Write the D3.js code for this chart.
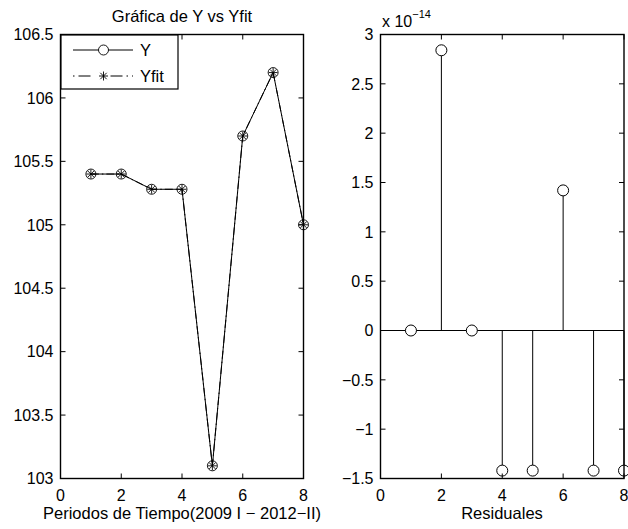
<!DOCTYPE html>
<html>
<head>
<meta charset="utf-8">
<script src="https://cdn.jsdelivr.net/npm/d3@7"></script>
<style>
  body { margin: 0; background: #fff; }
  svg { display: block; }
  text { font-family: "Liberation Sans", Arial, Helvetica, sans-serif; fill: #000; }
</style>
</head>
<body>
<svg id="chart" width="628" height="529"></svg>
<script>
// Data
var periods = [1, 2, 3, 4, 5, 6, 7, 8];
var yObs = [105.4, 105.4, 105.28, 105.28, 103.1, 105.7, 106.2, 105.0];
var yFit = [105.4, 105.4, 105.28, 105.28, 103.1, 105.7, 106.2, 105.0];
var residuals = [0, 2.84, 0, -1.42, -1.42, 1.42, -1.42, -1.42]; // x 1e-14

var xTicks = [0, 2, 4, 6, 8];
var leftYTicks = [103, 103.5, 104, 104.5, 105, 105.5, 106, 106.5];
var rightYTicks = [-1.5, -1, -0.5, 0, 0.5, 1, 1.5, 2, 2.5, 3];

(function() {

    var svg = d3.select("#chart");

    // Dimensions
    var plotTop = 34.5, plotBottom = 478.5;
    var tickFont = 16;
    var labelFont = 16.5;
    var tickLen = 5;

    function fmt(v) {
        return String(v).replace("-", "\u2212");
    }

    function drawAxes(g, x, y, yTicks) {
        var x0 = x.range()[0], x1 = x.range()[1];

        // ticks inward on all four sides
        xTicks.forEach(function(t) {
            g.append("line").attr("x1", x(t)).attr("x2", x(t))
                .attr("y1", plotBottom).attr("y2", plotBottom - tickLen)
                .attr("stroke", "#000");
            g.append("line").attr("x1", x(t)).attr("x2", x(t))
                .attr("y1", plotTop).attr("y2", plotTop + tickLen)
                .attr("stroke", "#000");
            g.append("text")
                .attr("x", x(t)).attr("y", 501)
                .attr("text-anchor", "middle")
                .attr("font-size", tickFont)
                .text(t);
        });
        yTicks.forEach(function(t) {
            g.append("line").attr("x1", x0).attr("x2", x0 + tickLen)
                .attr("y1", y(t)).attr("y2", y(t))
                .attr("stroke", "#000");
            g.append("line").attr("x1", x1).attr("x2", x1 - tickLen)
                .attr("y1", y(t)).attr("y2", y(t))
                .attr("stroke", "#000");
            g.append("text")
                .attr("x", x0 - 7).attr("y", y(t))
                .attr("dy", "0.36em")
                .attr("text-anchor", "end")
                .attr("font-size", tickFont)
                .text(fmt(t));
        });

        g.append("rect")
            .attr("x", x0).attr("y", plotTop)
            .attr("width", x1 - x0).attr("height", plotBottom - plotTop)
            .attr("fill", "none")
            .attr("stroke", "#000")
            .attr("stroke-width", 1.4);
    }

    function star(g, cx, cy, r) {
        var d = r * 0.7071;
        g.append("path")
            .attr("d", "M" + (cx - r) + "," + cy + "H" + (cx + r) +
                "M" + cx + "," + (cy - r) + "V" + (cy + r) +
                "M" + (cx - d) + "," + (cy - d) + "L" + (cx + d) + "," + (cy + d) +
                "M" + (cx - d) + "," + (cy + d) + "L" + (cx + d) + "," + (cy - d))
            .attr("stroke", "#000")
            .attr("stroke-width", 0.9)
            .attr("fill", "none");
    }

    // ---------- Left panel ----------
    var xL = d3.scaleLinear().domain([0, 8]).range([60.5, 303.5]);
    var yL = d3.scaleLinear().domain([103, 106.5]).range([plotBottom, plotTop]);
    var left = svg.append("g").attr("class", "left-panel");

    var line = d3.line()
        .x(function(d, i) { return xL(periods[i]); })
        .y(function(d) { return yL(d); });

    left.append("path")
        .datum(yObs)
        .attr("d", line)
        .attr("fill", "none")
        .attr("stroke", "#000")
        .attr("stroke-width", 1);

    left.append("path")
        .datum(yFit)
        .attr("d", line)
        .attr("fill", "none")
        .attr("stroke", "#000")
        .attr("stroke-width", 1)
        .attr("stroke-dasharray", "8,3,1.5,3");

    left.selectAll("circle.obs")
        .data(yObs)
        .enter().append("circle")
        .attr("class", "obs")
        .attr("cx", function(d, i) { return xL(periods[i]); })
        .attr("cy", function(d) { return yL(d); })
        .attr("r", 5)
        .attr("fill", "none")
        .attr("stroke", "#000")
        .attr("stroke-width", 0.9);

    yFit.forEach(function(d, i) {
        star(left, xL(periods[i]), yL(d), 4.5);
    });

    drawAxes(left, xL, yL, leftYTicks);

    left.append("text")
        .attr("x", 182).attr("y", 22)
        .attr("text-anchor", "middle")
        .attr("font-size", labelFont)
        .text("Gráfica de Y vs Yfit");

    left.append("text")
        .attr("x", 182).attr("y", 519)
        .attr("text-anchor", "middle")
        .attr("font-size", labelFont)
        .text("Periodos de Tiempo(2009 I \u2212 2012\u2212II)");

    // Legend
    var legend = left.append("g").attr("class", "legend");
    legend.append("rect")
        .attr("x", 61).attr("y", 35)
        .attr("width", 117).attr("height", 54)
        .attr("fill", "#fff")
        .attr("stroke", "#000")
        .attr("stroke-width", 1.2);
    legend.append("line")
        .attr("x1", 73).attr("x2", 133).attr("y1", 50).attr("y2", 50)
        .attr("stroke", "#000");
    legend.append("circle")
        .attr("cx", 103.5).attr("cy", 50).attr("r", 5)
        .attr("fill", "#fff").attr("stroke", "#000").attr("stroke-width", 0.9);
    legend.append("text")
        .attr("x", 140).attr("y", 50).attr("dy", "0.36em")
        .attr("font-size", labelFont).text("Y");
    legend.append("line")
        .attr("x1", 73).attr("x2", 133).attr("y1", 76).attr("y2", 76)
        .attr("stroke", "#000")
        .attr("stroke-dasharray", "1.5,4,12,20,12,4,1.5,4");
    star(legend, 103.5, 76, 4.5);
    legend.append("text")
        .attr("x", 140).attr("y", 76).attr("dy", "0.36em")
        .attr("font-size", labelFont).text("Yfit");

    // ---------- Right panel ----------
    var xR = d3.scaleLinear().domain([0, 8]).range([380.5, 624]);
    var yR = d3.scaleLinear().domain([-1.5, 3]).range([plotBottom, plotTop]);
    var right = svg.append("g").attr("class", "right-panel");

    right.selectAll("line.stem")
        .data(residuals)
        .enter().append("line")
        .attr("class", "stem")
        .attr("x1", function(d, i) { return xR(periods[i]); })
        .attr("x2", function(d, i) { return xR(periods[i]); })
        .attr("y1", yR(0))
        .attr("y2", function(d) { return yR(d); })
        .attr("stroke", "#000")
        .attr("stroke-width", 1);

    right.append("line")
        .attr("x1", xR(0)).attr("x2", xR(8))
        .attr("y1", yR(0)).attr("y2", yR(0))
        .attr("stroke", "#000");

    right.selectAll("circle.res")
        .data(residuals)
        .enter().append("circle")
        .attr("class", "res")
        .attr("cx", function(d, i) { return xR(periods[i]); })
        .attr("cy", function(d) { return yR(d); })
        .attr("r", 5.5)
        .attr("fill", "#fff")
        .attr("stroke", "#000")
        .attr("stroke-width", 1);

    drawAxes(right, xR, yR, rightYTicks);

    var expo = right.append("text")
        .attr("x", 382).attr("y", 27)
        .attr("font-size", tickFont);
    expo.append("tspan").text("x 10");
    expo.append("tspan")
        .attr("dy", -9)
        .attr("font-size", 11)
        .text("\u221214");

    right.append("text")
        .attr("x", 502).attr("y", 519)
        .attr("text-anchor", "middle")
        .attr("font-size", labelFont)
        .text("Residuales");

})();
</script>
</body>
</html>
